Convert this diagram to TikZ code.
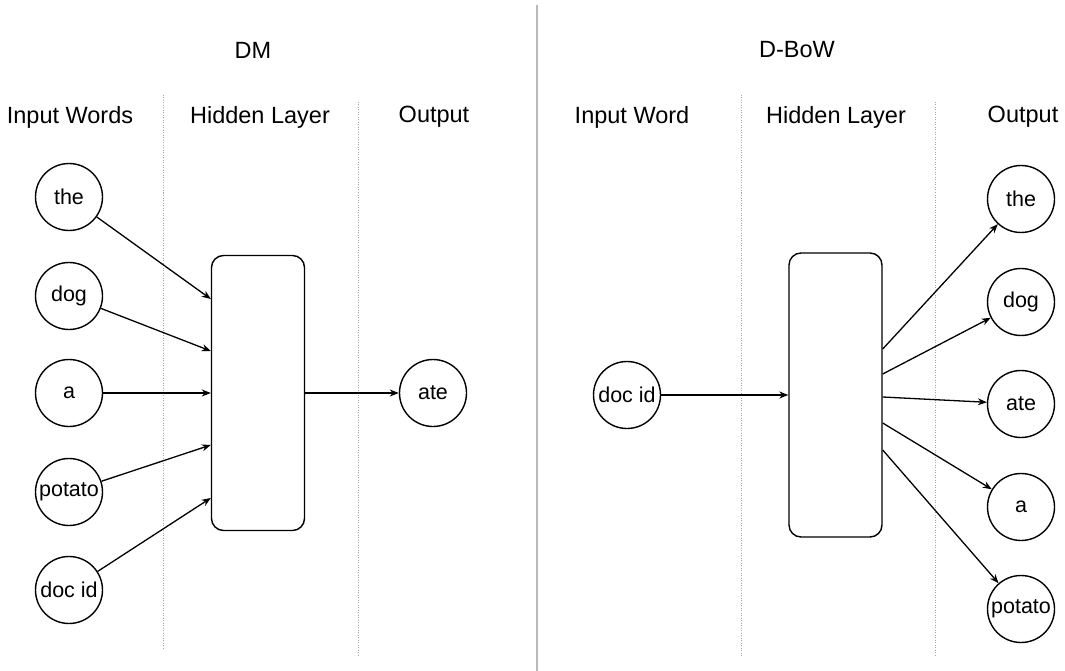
\documentclass[tikz,border=0pt]{standalone}
\usepackage{fontspec}
\setmainfont{Liberation Sans}
\usetikzlibrary{arrows.meta}
\begin{document}
\begin{tikzpicture}[x=1pt,y=-1pt,
  word/.style={circle,draw,line width=1.4pt,minimum size=67pt,inner sep=0pt,font=\fontsize{21.5}{24}\selectfont},
  hid/.style={draw,line width=1.4pt,rounded corners=12pt,minimum width=93pt,inner sep=0pt},
  lbl/.style={font=\fontsize{23.5}{28}\selectfont},
  guide/.style={gray!70,line width=0.7pt,dash pattern=on 1pt off 1.5pt},
  sep/.style={gray!55,line width=1.6pt},
  conn/.style={line width=1.3pt,-{Stealth[length=9pt,width=7pt]}}]
\useasboundingbox (0,0) rectangle (1065,671);

% separator and guides
\coordinate (s1) at (537,5); \coordinate (s2) at (537,671);
\draw[sep] (s1) -- (s2);
\coordinate (g1a) at (163,95);  \coordinate (g1b) at (163,648);
\coordinate (g2a) at (358,102); \coordinate (g2b) at (358,656);
\coordinate (g3a) at (741,95);  \coordinate (g3b) at (741,656);
\coordinate (g4a) at (935,102); \coordinate (g4b) at (935,656);
\draw[guide] (g1a) -- (g1b);
\draw[guide] (g2a) -- (g2b);
\draw[guide] (g3a) -- (g3b);
\draw[guide] (g4a) -- (g4b);

% titles and headers
\node[lbl] (tDM) at (253,50) {DM};
\node[lbl] (tDB) at (797,50) {D-BoW};
\node[lbl] (h1) at (70,117) {Input Words};
\node[lbl] (h2) at (260,117) {Hidden Layer};
\node[lbl] (h3) at (434,117) {Output};
\node[lbl] (h4) at (632,117) {Input Word};
\node[lbl] (h5) at (836,117) {Hidden Layer};
\node[lbl] (h6) at (1023,117) {Output};

% ---------- DM ----------
\node[hid,minimum height=275pt] (hL) at (258,393) {};
\node[word] (lthe) at (69,197) {the};
\node[word] (ldog) at (69,296) {dog};
\node[word] (la)   at (69,393) {a};
\node[word] (lpot) at (69,492) {potato};
\node[word] (ldoc) at (69,590) {doc id};
\node[word] (late) at (433,393) {ate};

\draw[conn] (lthe) -- ([yshift=94pt]hL.west);
\draw[conn] (ldog) -- ([yshift=42pt]hL.west);
\draw[conn] (la)   -- (hL.west);
\draw[conn] (lpot) -- ([yshift=-52pt]hL.west);
\draw[conn] (ldoc) -- ([yshift=-105pt]hL.west);
\draw[conn] (hL.east) -- (late);

% ---------- D-BoW ----------
\node[hid,minimum height=284pt] (hR) at (835.5,395) {};
\node[word] (rdoc) at (627,395) {doc id};
\node[word] (rthe) at (1021,199) {the};
\node[word] (rdog) at (1021,302) {dog};
\node[word] (rate) at (1021,404) {ate};
\node[word] (ra)   at (1021,507) {a};
\node[word] (rpot) at (1021,609) {potato};

\draw[conn] (rdoc) -- (hR.west);
\draw[conn] ([yshift=46pt]hR.east) -- (rthe);
\draw[conn] ([yshift=21pt]hR.east) -- (rdog);
\draw[conn] ([yshift=-2pt]hR.east) -- (rate);
\draw[conn] ([yshift=-28pt]hR.east) -- (ra);
\draw[conn] ([yshift=-55pt]hR.east) -- (rpot);
\end{tikzpicture}
\end{document}
